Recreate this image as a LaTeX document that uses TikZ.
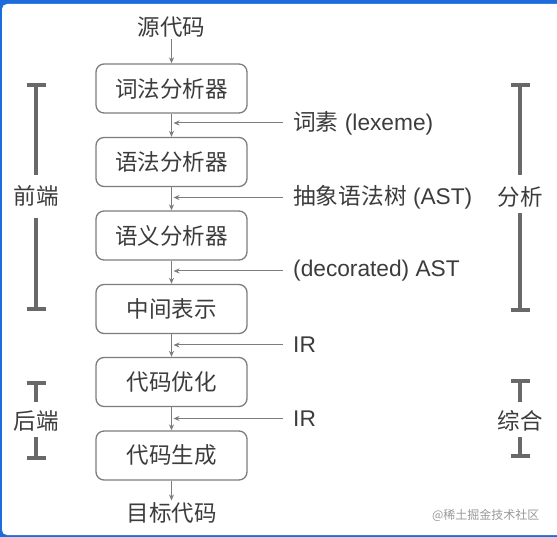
\documentclass[tikz,border=0pt]{standalone}
\usepackage{fontspec}
\setmainfont{Liberation Sans}
\newfontfamily\cjk{Noto Sans CJK SC}
\usetikzlibrary{arrows.meta,positioning}
\definecolor{framebl}{RGB}{28,108,220}
\definecolor{ink}{RGB}{60,60,60}
\definecolor{edge}{RGB}{125,125,125}
\definecolor{barc}{RGB}{105,105,105}

\begin{document}
\begin{tikzpicture}[
  x=1pt, y=-1pt,
  stage/.style={rectangle, draw=edge, line width=1.3pt, minimum width=151pt, minimum height=49pt, rounded corners=8pt, font=\cjk\fontsize{22.5}{26}\selectfont, text=ink},
  term/.style={font=\cjk\fontsize{22.5}{26}\selectfont, text=ink, inner sep=2pt},
  label/.style={anchor=west, font=\fontsize{22.7}{26}\selectfont, text=ink, inner xsep=10pt, inner ysep=2pt},
  part/.style={font=\cjk\fontsize{22.5}{26}\selectfont, text=ink, inner sep=0pt},
  flow/.style={draw=edge, line width=1pt, -{Stealth[length=6pt,width=5pt]}},
  bracket/.style={draw=barc, line width=3.1pt}
]
  % frame
  \useasboundingbox (0,0) rectangle (557,537);
  \fill[framebl] (0,0) rectangle (557,537);
  \fill[white, rounded corners=5pt] (2,4) rectangle (562,535);

  % pipeline
  \node[term] (src) at (171.5,27) {源代码};
  \node[stage] (lex) at (171.5,88.5) {词法分析器};
  \node[stage] (syn) at (171.5,162) {语法分析器};
  \node[stage] (sem) at (171.5,235.5) {语义分析器};
  \node[stage] (mid) at (171.5,309) {中间表示};
  \node[stage] (opt) at (171.5,382) {代码优化};
  \node[stage] (gen) at (171.5,455.5) {代码生成};
  \node[term] (tgt) at (171.5,513) {目标代码};

  \draw[flow] (src) -- (lex);
  \draw[flow] (lex) -- (syn);
  \draw[flow] (syn) -- (sem);
  \draw[flow] (sem) -- (mid);
  \draw[flow] (mid) -- (opt);
  \draw[flow] (opt) -- (gen);
  \draw[flow] (gen) -- (tgt);

  % what flows between stages
  \node[label] (lexeme) at (283,123) {{\cjk 词素} (lexeme)};
  \node[label] (ast) at (283,197.5) {{\cjk 抽象语法树} (AST)};
  \node[label] (dast) at (283,271) {(decorated) AST};
  \node[label] (ir1) at (283,345) {IR};
  \node[label] (ir2) at (283,418.5) {IR};

  \draw[flow] (lexeme.west) -- ([xshift=2pt]lex.south |- lexeme.west);
  \draw[flow] (ast.west) -- ([xshift=2pt]syn.south |- ast.west);
  \draw[flow] (dast.west) -- ([xshift=2pt]sem.south |- dast.west);
  \draw[flow] (ir1.west) -- ([xshift=2pt]mid.south |- ir1.west);
  \draw[flow] (ir2.west) -- ([xshift=2pt]opt.south |- ir2.west);

  % phases
  \node[part] (front) at (36,196) {前端};
  \node[part] (back) at (36,421) {后端};
  \node[part] (anal) at (520,197) {分析};
  \node[part] (synth) at (520,421) {综合};

  \coordinate (ftop) at (36,85);
  \coordinate (fbot) at (36,309);
  \coordinate (btop) at (36,383);
  \coordinate (bbot) at (36,458);
  \coordinate (atop) at (520,85);
  \coordinate (abot) at (520,310);
  \coordinate (stop) at (520,381);
  \coordinate (sbot) at (520,456);

  \draw[bracket] ([xshift=-9.5pt]ftop) -- ([xshift=9.5pt]ftop);
  \draw[bracket] ([xshift=-9.5pt]fbot) -- ([xshift=9.5pt]fbot);
  \draw[bracket] (ftop) -- ([yshift=21pt]front.center);
  \draw[bracket] ([yshift=-22pt]front.center) -- (fbot);

  \draw[bracket] ([xshift=-9.5pt]btop) -- ([xshift=9.5pt]btop);
  \draw[bracket] ([xshift=-9.5pt]bbot) -- ([xshift=9.5pt]bbot);
  \draw[bracket] (btop) -- ([yshift=19pt]back.center);
  \draw[bracket] ([yshift=-16pt]back.center) -- (bbot);

  \draw[bracket] ([xshift=-9.5pt]atop) -- ([xshift=9.5pt]atop);
  \draw[bracket] ([xshift=-9.5pt]abot) -- ([xshift=9.5pt]abot);
  \draw[bracket] (atop) -- ([yshift=22pt]anal.center);
  \draw[bracket] ([yshift=-16pt]anal.center) -- (abot);

  \draw[bracket] ([xshift=-9.5pt]stop) -- ([xshift=9.5pt]stop);
  \draw[bracket] ([xshift=-9.5pt]sbot) -- ([xshift=9.5pt]sbot);
  \draw[bracket] (stop) -- ([yshift=19pt]synth.center);
  \draw[bracket] ([yshift=-16pt]synth.center) -- (sbot);

  % watermark
  \node[font=\cjk\fontsize{12}{14}\selectfont, text=black!40, anchor=east] (mark) at (543,515) {@稀土掘金技术社区};
\end{tikzpicture}
\end{document}
